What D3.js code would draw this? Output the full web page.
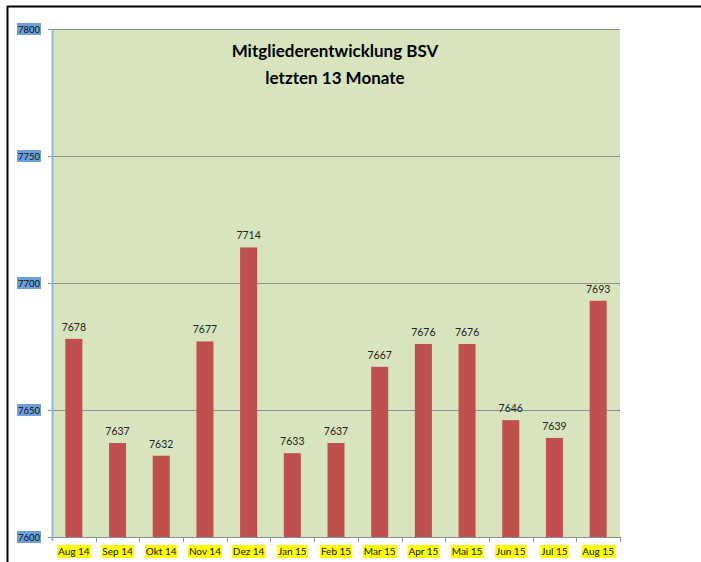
<!DOCTYPE html>
<html><head><meta charset="utf-8">
<script src="https://cdn.jsdelivr.net/npm/d3@7"></script>
<style>body{margin:0;background:#fff}svg{display:block}</style>
</head><body>
<svg id="c" width="701" height="562"></svg>
<script>
const categories = ["Aug 14","Sep 14","Okt 14","Nov 14","Dez 14","Jan 15","Feb 15","Mar 15","Apr 15","Mai 15","Jun 15","Jul 15","Aug 15"];
const values = [7678,7637,7632,7677,7714,7633,7637,7667,7676,7676,7646,7639,7693];
const yTicks = [7600,7650,7700,7750,7800];
const titleLines = ["Mitgliederentwicklung BSV","letzten 13 Monate"];

const svg = d3.select("#c");
const m = {l:52, t:29, r:620, b:537};
const font = "Lato, 'Open Sans', sans-serif";

// outer frame
svg.append("line").attr("x1",7).attr("x2",701).attr("y1",6.5).attr("y2",6.5).attr("stroke","#000").attr("stroke-width",2);
svg.append("line").attr("x1",7.5).attr("x2",7.5).attr("y1",6).attr("y2",562).attr("stroke","#000").attr("stroke-width",2);

const x = d3.scaleBand().domain(categories).range([m.l,m.r]).paddingInner(0.61).paddingOuter(0.305);
const y = d3.scaleLinear().domain([7600,7800]).range([m.b,m.t]);

svg.append("rect").attr("x",m.l).attr("y",m.t).attr("width",m.r-m.l).attr("height",m.b-m.t).attr("fill","#D7E4BD");

// gridlines
svg.append("g").selectAll("line").data(yTicks.filter(d=>d>7600)).join("line")
  .attr("x1",m.l-4).attr("x2",m.r).attr("y1",d=>Math.round(y(d))+0.5).attr("y2",d=>Math.round(y(d))+0.5)
  .attr("stroke","#8A8F94").attr("stroke-width",1);

// bars
svg.append("g").selectAll("rect").data(values).join("rect")
  .attr("x",(d,i)=>x(categories[i])).attr("width",x.bandwidth())
  .attr("y",d=>y(d)).attr("height",d=>m.b-y(d)).attr("fill","#C0504D");

// value labels
svg.append("g").selectAll("text").data(values).join("text")
  .attr("x",(d,i)=>x(categories[i])+x.bandwidth()/2).attr("y",d=>y(d)-8)
  .attr("text-anchor","middle").attr("font-family",font).attr("font-size",10.5).attr("fill","#222")
  .text(d=>d);

// x axis
const xb = svg.append("g");
xb.append("line").attr("x1",m.l).attr("x2",m.r).attr("y1",m.b+0.5).attr("y2",m.b+0.5).attr("stroke","#8A8F94");
const step = x.step();
xb.selectAll("line.t").data(d3.range(1,categories.length+1)).join("line").attr("class","t")
  .attr("x1",i=>Math.round(m.l+i*step)+0.5).attr("x2",i=>Math.round(m.l+i*step)+0.5)
  .attr("y1",m.b).attr("y2",m.b+5).attr("stroke","#8A8F94");
const xl = xb.selectAll("g.l").data(categories).join("g").attr("class","l")
  .attr("transform",d=>`translate(${x(d)+x.bandwidth()/2},555)`);
xl.append("text").attr("text-anchor","middle").attr("font-family",font).attr("font-size",10).attr("fill","#111").text(d=>d);
xl.each(function(){
  const g=d3.select(this); const bb=g.select("text").node().getBBox();
  g.insert("rect","text").attr("x",bb.x-1).attr("y",-10).attr("width",bb.width+2).attr("height",13).attr("fill","#FFFF00");
});

// y axis
svg.append("line").attr("x1",m.l+0.5).attr("x2",m.l+0.5).attr("y1",m.t).attr("y2",m.b+4).attr("stroke","#95B3D7").attr("stroke-width",2);
svg.append("line").attr("x1",m.l-4).attr("x2",m.l).attr("y1",m.b+0.5).attr("y2",m.b+0.5).attr("stroke","#8A8F94");
const yl = svg.append("g").selectAll("g").data(yTicks).join("g").attr("transform",d=>`translate(29,${y(d)})`);
yl.append("rect").attr("x",-12).attr("y",-6).attr("width",24).attr("height",12).attr("fill","#6C9FDB");
yl.append("text").attr("text-anchor","middle").attr("y",3.5).attr("font-family",font).attr("font-size",9.5).attr("fill","#111").text(d=>d);

// title
svg.append("g").selectAll("text").data(titleLines).join("text")
  .attr("x",335).attr("y",(d,i)=>57+i*27).attr("text-anchor","middle")
  .attr("font-family",font).attr("font-weight","bold").attr("font-size",17).attr("fill","#000").text(d=>d);
</script>
</body></html>
